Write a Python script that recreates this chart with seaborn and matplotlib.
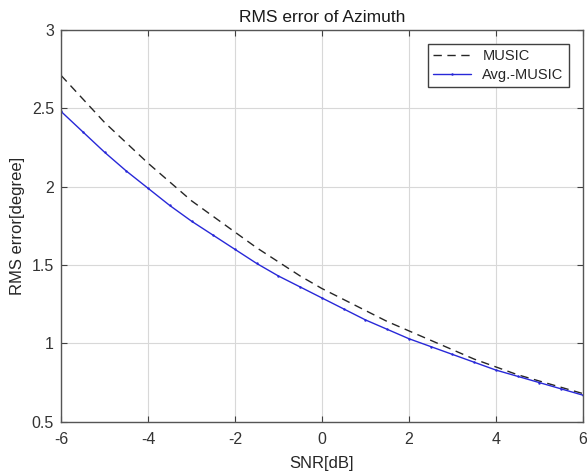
import matplotlib
matplotlib.use("Agg")
import matplotlib.pyplot as plt
import seaborn as sns
import pandas as pd

snr = [-6, -5.5, -5, -4.5, -4, -3.5, -3, -2.5, -2, -1.5, -1, -0.5, 0,
       0.5, 1, 1.5, 2, 2.5, 3, 3.5, 4, 4.5, 5, 5.5, 6]
music = [2.71, 2.56, 2.41, 2.28, 2.15, 2.03, 1.91, 1.81, 1.71, 1.61, 1.52, 1.43, 1.35,
         1.28, 1.21, 1.14, 1.08, 1.02, 0.96, 0.90, 0.85, 0.80, 0.76, 0.72, 0.68]
avg_music = [2.48, 2.35, 2.22, 2.10, 1.99, 1.88, 1.78, 1.69, 1.60, 1.51, 1.43, 1.36, 1.29,
             1.22, 1.15, 1.09, 1.03, 0.98, 0.93, 0.88, 0.83, 0.79, 0.75, 0.71, 0.67]
xticks = [-6, -4, -2, 0, 2, 4, 6]
yticks = [0.5, 1, 1.5, 2, 2.5, 3]

sns.set_style("white")
plt.rcParams['font.family'] = ['Liberation Sans', 'DejaVu Sans']

df = pd.DataFrame({"snr": snr, "MUSIC": music, "Avg.-MUSIC": avg_music})

fig = plt.figure(figsize=(5.87, 4.75), dpi=100)
ax = fig.add_axes([0.104, 0.112, 0.889, 0.825])

sns.lineplot(data=df, x="snr", y="MUSIC", ax=ax, color="#262626", linewidth=1.0,
             linestyle=(0, (6, 4)), label="MUSIC")
sns.lineplot(data=df, x="snr", y="Avg.-MUSIC", ax=ax, color="#2828d8", linewidth=1.0,
             marker=".", markersize=3.5, markeredgewidth=0, label="Avg.-MUSIC")

ax.set_xlim(-6, 6)
ax.set_ylim(0.5, 3)
ax.set_xticks(xticks)
ax.set_xticklabels([str(t) for t in xticks])
ax.set_yticks(yticks)
ax.set_yticklabels(["0.5", "1", "1.5", "2", "2.5", "3"])
ax.grid(True, color="#d8d8d8", linewidth=0.8)
ax.tick_params(direction="in", length=4, width=0.8, colors="#404040",
               labelcolor="#333333", labelsize=11.5, top=True, right=True,
               bottom=True, left=True)
ax.tick_params(axis="x", pad=7)
ax.tick_params(axis="y", pad=5)
for s in ax.spines.values():
    s.set_color("#555555")
    s.set_linewidth(1.0)

ax.set_xlabel("SNR[dB]", fontsize=12, color="#262626", labelpad=7)
ax.set_ylabel("RMS error[degree]", fontsize=12, color="#262626", labelpad=5)
ax.set_title("RMS error of Azimuth", fontsize=12.5, color="#1a1a1a", pad=6)

leg = ax.legend(loc="upper right", fontsize=10.5, frameon=True, fancybox=False,
                edgecolor="#404040", framealpha=1, borderpad=0.35,
                handlelength=2.6, borderaxespad=0, labelspacing=0.35,
                bbox_to_anchor=(0.973, 0.964))
leg.get_frame().set_linewidth(1.0)

fig.savefig("out.png", dpi=100, facecolor="white")
